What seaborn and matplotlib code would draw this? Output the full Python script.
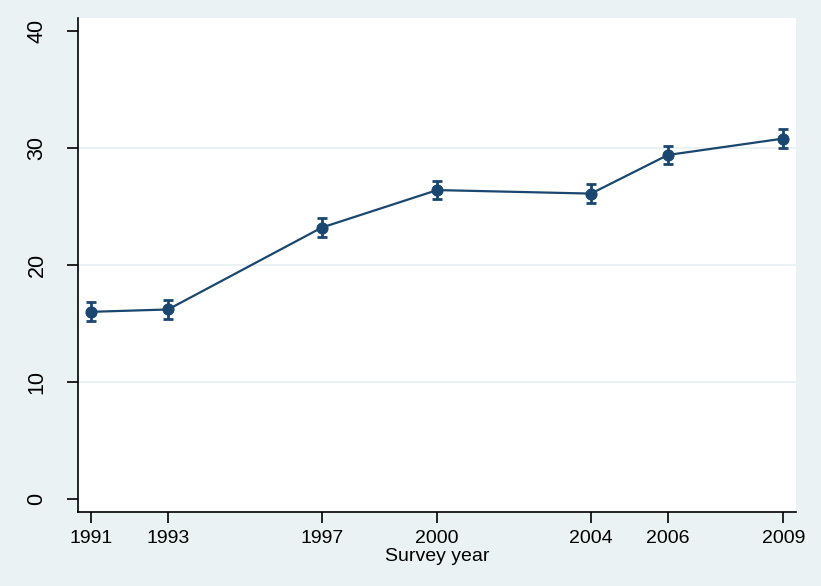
import matplotlib
matplotlib.use("Agg")
import matplotlib.pyplot as plt
import seaborn as sns
import numpy as np
import pandas as pd

years = [1991, 1993, 1997, 2000, 2004, 2006, 2009]
values = [16.0, 16.2, 23.2, 26.4, 26.1, 29.4, 30.8]
ci_low = [15.2, 15.4, 22.4, 25.6, 25.3, 28.6, 30.0]
ci_high = [16.8, 17.0, 24.0, 27.2, 26.9, 30.2, 31.6]
y_ticks = [0, 10, 20, 30, 40]
x_label = "Survey year"

navy = "#1a476f"
bg = "#eaf2f3"

sns.set_style("white")
plt.rcParams['font.family'] = ['Liberation Sans', 'DejaVu Sans']
plt.rcParams['text.color'] = 'black'
plt.rcParams['xtick.color'] = 'black'
plt.rcParams['ytick.color'] = 'black'
plt.rcParams['axes.labelcolor'] = 'black'

df = pd.DataFrame({"year": years, "value": values, "lo": ci_low, "hi": ci_high})

fig = plt.figure(figsize=(8.21, 5.86), dpi=100, facecolor=bg)
ax = fig.add_axes([78/821, 74/586, (796-78)/821, (512-18)/586])
ax.set_facecolor("white")

for t in [10, 20, 30]:
    ax.axhline(t, color=bg, lw=1.5, zorder=0)

yerr = np.array([df["value"] - df["lo"], df["hi"] - df["value"]])
ax.errorbar(df["year"], df["value"], yerr=yerr, fmt="none", ecolor=navy,
            elinewidth=2.0, capsize=3.5, capthick=2.0, zorder=2)
sns.lineplot(data=df, x="year", y="value", ax=ax, color=navy, lw=1.6,
             marker="o", markersize=8, markeredgecolor=navy, zorder=3)

ax.set_xlim(1990.66, 2009.33)
ax.set_ylim(-1.1, 41.1)
ax.set_xticks(years)
ax.set_xticklabels([str(y) for y in years], fontsize=14)
ax.set_yticks(y_ticks)
ax.set_yticklabels([str(t) for t in y_ticks], fontsize=15.5, rotation=90, va="center")
ax.set_xlabel(x_label, fontsize=14, labelpad=1)
ax.set_ylabel("")

for s in ["top", "right"]:
    ax.spines[s].set_visible(False)
for s in ["left", "bottom"]:
    ax.spines[s].set_color("black")
    ax.spines[s].set_linewidth(1.2)
ax.tick_params(axis="both", direction="out", length=8, width=1.2, color="black",
               left=True, bottom=True)
ax.tick_params(axis="x", pad=5)
ax.tick_params(axis="y", pad=14)
ax.grid(False)

fig.savefig("out.png", dpi=100, facecolor=bg)
